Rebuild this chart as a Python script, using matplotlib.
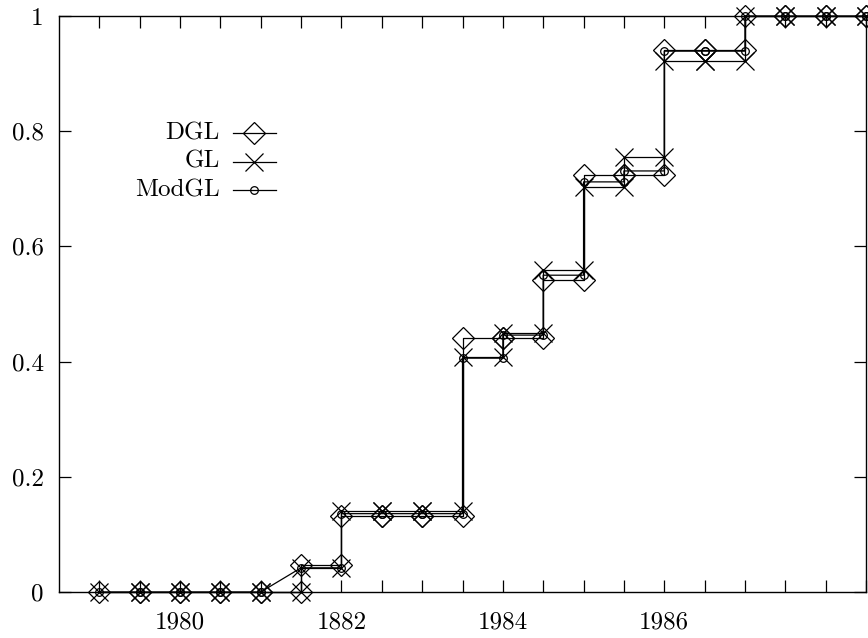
import matplotlib
matplotlib.use('Agg')
import matplotlib.pyplot as plt
from matplotlib.lines import Line2D

# x positions: every half year
years = [1979, 1979.5, 1980, 1980.5, 1981, 1981.5, 1982, 1982.5, 1983, 1983.5,
         1984, 1984.5, 1985, 1985.5, 1986, 1986.5, 1987, 1987.5, 1988, 1988.5]

dgl = [0, 0, 0, 0, 0, 0.047, 0.132, 0.132, 0.132, 0.441,
       0.441, 0.542, 0.724, 0.724, 0.941, 0.941, 1, 1, 1, 1]
gl = [0, 0, 0, 0, 0, 0.042, 0.140, 0.140, 0.140, 0.408,
      0.450, 0.559, 0.703, 0.755, 0.922, 0.922, 1, 1, 1, 1]
modgl = [0, 0, 0, 0, 0, 0.042, 0.136, 0.136, 0.136, 0.406,
         0.446, 0.550, 0.712, 0.731, 0.939, 0.939, 1, 1, 1, 1]

xtick_labels = {1980: '1980', 1982: '1882', 1984: '1984', 1986: '1986'}
ytick_vals = [0, 0.2, 0.4, 0.6, 0.8, 1]
ytick_labels = ['0', '0.2', '0.4', '0.6', '0.8', '1']


def stair(xs, vals, ramp=None):
    # horizontal then vertical, points at both ends of each flat part
    px, py = [xs[0]], [vals[0]]
    for i in range(1, len(xs)):
        if i == ramp:
            px.append(xs[i]); py.append(vals[i])
            continue
        px += [xs[i], xs[i]]
        py += [vals[i - 1], vals[i]]
    return px, py


plt.rcParams['font.family'] = 'cmr10'
plt.rcParams['axes.formatter.use_mathtext'] = True

fig = plt.figure(figsize=(8.68, 6.38), dpi=100)
ax = fig.add_axes([59 / 868, 46 / 638, 807 / 868, 576 / 638])

series = [
    (dgl, 'D', 11, None),
    (gl, 'x', 12.5, None),
    (modgl, 'o', 5.5, 5),
]
for vals, mk, ms, ramp in series:
    px, py = stair(years, vals, ramp)
    ax.plot(px, py, color='black', lw=0.9, marker=mk, ms=ms,
            mfc='none', mec='black', mew=0.9, clip_on=False)

ax.set_xlim(1978.5, 1988.5)
ax.set_ylim(0, 1)
ax.set_xticks(years)
ax.set_xticklabels([xtick_labels.get(y, '') for y in years])
ax.set_yticks(ytick_vals)
ax.set_yticklabels(ytick_labels)
ax.tick_params(direction='in', length=8.6, width=0.9, top=True, right=True,
               labelsize=18)
ax.tick_params(axis='x', pad=14)
ax.tick_params(axis='y', pad=11)
for s in ax.spines.values():
    s.set_linewidth(1.0)

# legend drawn gnuplot style: label, then sample
legend = [('DGL', 'D', 11), ('GL', 'x', 12.5), ('ModGL', 'o', 5.5)]
for k, (name, mk, ms) in enumerate(legend):
    yy = 1 - (133 + 28.5 * k) / 638
    fig.text(220 / 868, yy, name, ha='right', va='center', fontsize=18)
    fig.add_artist(Line2D([233 / 868, 276 / 868], [yy, yy], color='black',
                          lw=0.9, transform=fig.transFigure))
    fig.add_artist(Line2D([254 / 868], [yy], marker=mk, ms=ms, mfc='none',
                          mec='black', mew=0.9, transform=fig.transFigure))

fig.savefig('out.png', dpi=100)
